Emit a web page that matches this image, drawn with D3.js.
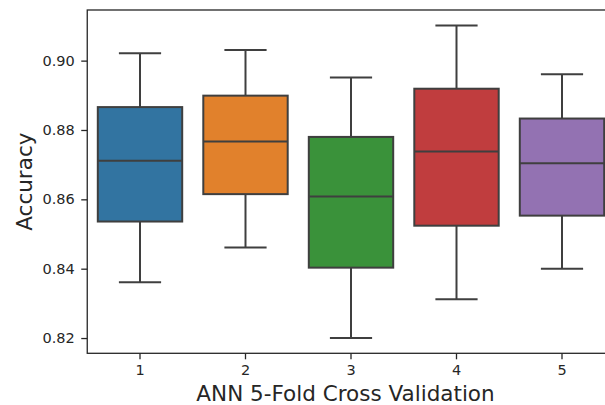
<!DOCTYPE html>
<html><head><meta charset="utf-8">
<script src="https://cdn.jsdelivr.net/npm/d3@7"></script>
<style>body{margin:0;background:#fff}svg{display:block}</style>
</head><body>
<script>
const categories = ["1","2","3","4","5"];
const whiskerLow = [0.8361, 0.8461, 0.8200, 0.8312, 0.8400];
const q1 = [0.8536, 0.8615, 0.8403, 0.8524, 0.8553];
const median = [0.8711, 0.8767, 0.8608, 0.8738, 0.8704];
const q3 = [0.8866, 0.8899, 0.8780, 0.8919, 0.8833];
const whiskerHigh = [0.9021, 0.9031, 0.8951, 0.9101, 0.8961];
const colors = ["#3274a1","#e1812c","#3a923a","#c03d3e","#9372b2"];
const yTicks = [0.82, 0.84, 0.86, 0.88, 0.90];

(function(){
const W = 605, H = 405;
const mLeft = 87.25, mRight = 614.75, mTop = 10, mBottom = 353.3;
const svg = d3.select("body").append("svg").attr("width", W).attr("height", H);

const x = d3.scaleBand().domain(categories).range([mLeft, mRight]).paddingInner(0).paddingOuter(0);
const y = d3.scaleLinear().domain([0.8156, 0.9146]).range([mBottom, mTop]);
const lc = "#3f3f3f";
const boxW = x.bandwidth() * 0.8;
const capW = boxW / 2;

const data = categories.map((c, i) => ({c, lo: whiskerLow[i], q1: q1[i], med: median[i], q3: q3[i], hi: whiskerHigh[i], color: colors[i]}));

const g = svg.append("g");
const box = g.selectAll("g.box").data(data).join("g").attr("class", "box");
const cx = d => x(d.c) + x.bandwidth() / 2;
box.append("line").attr("x1", cx).attr("x2", cx).attr("y1", d => y(d.q3)).attr("y2", d => y(d.hi)).attr("stroke", lc).attr("stroke-width", 2);
box.append("line").attr("x1", cx).attr("x2", cx).attr("y1", d => y(d.q1)).attr("y2", d => y(d.lo)).attr("stroke", lc).attr("stroke-width", 2);
box.append("line").attr("x1", d => cx(d) - capW/2).attr("x2", d => cx(d) + capW/2).attr("y1", d => y(d.hi)).attr("y2", d => y(d.hi)).attr("stroke", lc).attr("stroke-width", 2);
box.append("line").attr("x1", d => cx(d) - capW/2).attr("x2", d => cx(d) + capW/2).attr("y1", d => y(d.lo)).attr("y2", d => y(d.lo)).attr("stroke", lc).attr("stroke-width", 2);
box.append("rect").attr("x", d => cx(d) - boxW/2).attr("width", boxW)
  .attr("y", d => y(d.q3)).attr("height", d => y(d.q1) - y(d.q3))
  .attr("fill", d => d.color).attr("stroke", lc).attr("stroke-width", 2);
box.append("line").attr("x1", d => cx(d) - boxW/2).attr("x2", d => cx(d) + boxW/2).attr("y1", d => y(d.med)).attr("y2", d => y(d.med)).attr("stroke", lc).attr("stroke-width", 2);

const font = "DejaVu Sans";
const xAxis = svg.append("g").attr("transform", `translate(0,${mBottom})`)
  .call(d3.axisBottom(x).tickSize(6).tickPadding(5.5));
const yAxis = svg.append("g").attr("transform", `translate(${mLeft},0)`)
  .call(d3.axisLeft(y).tickValues(yTicks).tickFormat(d3.format(".2f")).tickSize(6).tickPadding(6.5));
[xAxis, yAxis].forEach(a => {
  a.selectAll("text").attr("font-family", font).attr("font-size", 14.5).attr("fill", "#262626");
  a.selectAll("line").attr("stroke", "#262626").attr("stroke-width", 1.3);
  a.select(".domain").remove();
});
svg.append("rect").attr("x", mLeft).attr("y", mTop).attr("width", mRight - mLeft).attr("height", mBottom - mTop)
  .attr("fill", "none").attr("stroke", "#262626").attr("stroke-width", 1.3);

svg.append("text").attr("x", (mLeft + mRight) / 2 - 5.5).attr("y", 400.7).attr("text-anchor", "middle")
  .attr("font-family", font).attr("font-size", 21.5).attr("fill", "#262626").text("ANN 5-Fold Cross Validation");
svg.append("text").attr("transform", `translate(31.5,${(mTop + mBottom) / 2}) rotate(-90)`).attr("text-anchor", "middle")
  .attr("font-family", font).attr("font-size", 21.5).attr("fill", "#262626").text("Accuracy");
})();
</script>
</body></html>
